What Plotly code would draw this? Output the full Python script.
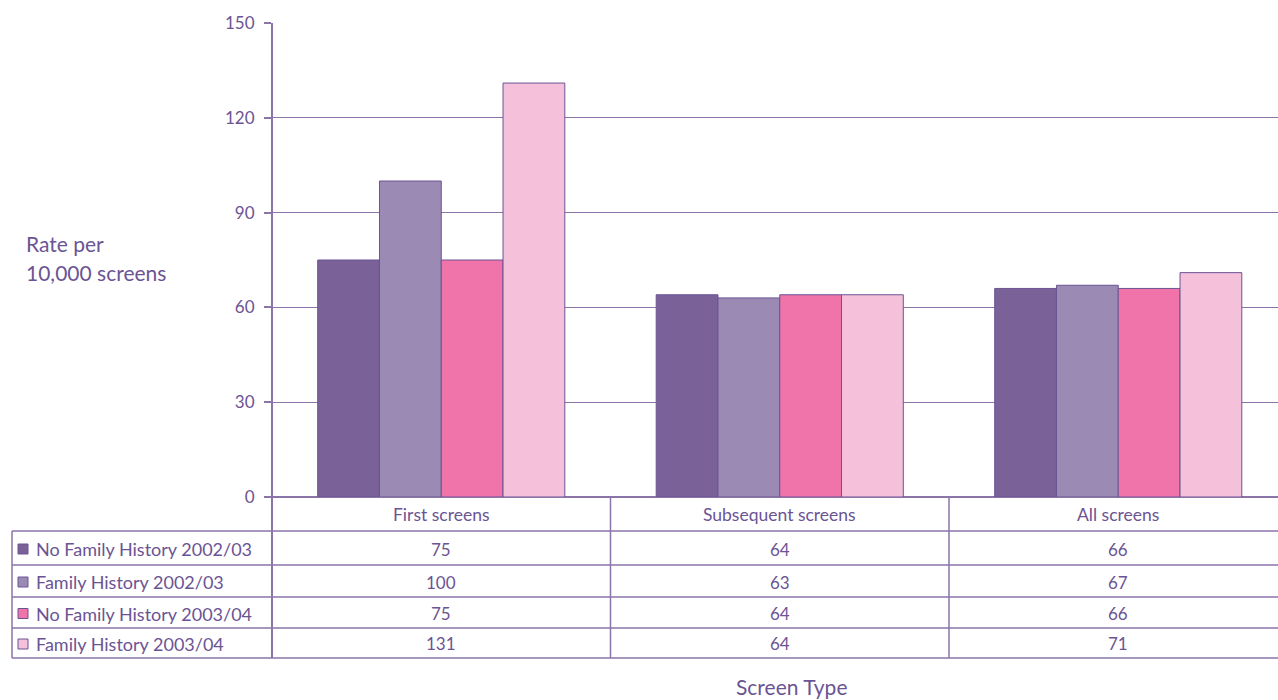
import plotly.graph_objects as go

# Screen types along the x axis
categories = ["First screens", "Subsequent screens", "All screens"]

# Rates per 10,000 screens for each group and year
series_names = [
    "No Family History 2002/03",
    "Family History 2002/03",
    "No Family History 2003/04",
    "Family History 2003/04",
]
no_fh_2002 = [75, 64, 66]
fh_2002 = [100, 63, 67]
no_fh_2003 = [75, 64, 66]
fh_2003 = [131, 64, 71]
series_values = [no_fh_2002, fh_2002, no_fh_2003, fh_2003]

y_ticks = [0, 30, 60, 90, 120, 150]

colors = ["#7a6198", "#9a8ab4", "#f073aa", "#f5c0da"]
ink = "#6b5494"
line_col = "#8a74a8"
font_family = "Lato, 'Open Sans', sans-serif"

W, H = 1278, 700
L, R, T, B = 272, 0, 23, 203
plot_w = W - L - R
plot_h = H - T - B


def px_to_paper_x(px):
    return (px - L) / plot_w


def px_to_paper_y(py):
    return (H - B - py) / plot_h


fig = go.Figure()
for name, vals, col in zip(series_names, series_values, colors):
    fig.add_trace(go.Bar(
        x=list(range(len(categories))),
        y=vals,
        name=name,
        marker=dict(color=col, line=dict(color=ink, width=1)),
        hoverinfo="y",
    ))

shapes = []
annotations = []

# Table geometry (pixel rows below the axis)
header_top, header_bot = 497, 531
row_edges = [531, 565, 597, 628, 658]
table_left = 12

# horizontal rules of the data table
for ry in row_edges:
    shapes.append(dict(type="line", xref="paper", yref="paper",
                       x0=px_to_paper_x(table_left), x1=1,
                       y0=px_to_paper_y(ry), y1=px_to_paper_y(ry),
                       line=dict(color=line_col, width=1.5)))
# left border of table
shapes.append(dict(type="line", xref="paper", yref="paper",
                   x0=px_to_paper_x(table_left), x1=px_to_paper_x(table_left),
                   y0=px_to_paper_y(row_edges[0]), y1=px_to_paper_y(row_edges[-1]),
                   line=dict(color=line_col, width=1.5)))
# axis line extended through the table
shapes.append(dict(type="line", xref="paper", yref="paper",
                   x0=0, x1=0, y0=1, y1=px_to_paper_y(row_edges[-1]),
                   line=dict(color=line_col, width=2)))
# category separators
for i in range(1, len(categories)):
    shapes.append(dict(type="line", xref="x", yref="paper",
                       x0=i - 0.5, x1=i - 0.5,
                       y0=0, y1=px_to_paper_y(row_edges[-1]),
                       line=dict(color=line_col, width=1.5)))

# category header labels
for i, cat in enumerate(categories):
    annotations.append(dict(x=i, xref="x", y=px_to_paper_y((header_top + header_bot) / 2),
                            yref="paper", text=cat, showarrow=False,
                            font=dict(size=17.5, color=ink, family=font_family),
                            xanchor="center", yanchor="middle"))

# table rows: colour key, series name, values
for r, (name, vals, col) in enumerate(zip(series_names, series_values, colors)):
    cy = (row_edges[r] + row_edges[r + 1]) / 2 + 1
    shapes.append(dict(type="rect", xref="paper", yref="paper",
                       x0=px_to_paper_x(18), x1=px_to_paper_x(28),
                       y0=px_to_paper_y(cy - 5), y1=px_to_paper_y(cy + 5),
                       fillcolor=col, line=dict(color=ink, width=1)))
    annotations.append(dict(x=px_to_paper_x(34), xref="paper", y=px_to_paper_y(cy),
                            yref="paper", text=name, showarrow=False,
                            font=dict(size=18, color=ink, family=font_family),
                            xanchor="left", yanchor="middle"))
    for i, v in enumerate(vals):
        annotations.append(dict(x=i, xref="x", y=px_to_paper_y(cy),
                                yref="paper", text=str(v), showarrow=False,
                                font=dict(size=17, color=ink, family=font_family),
                                xanchor="center", yanchor="middle"))

# y axis title (two lines)
annotations.append(dict(x=px_to_paper_x(24), xref="paper", y=px_to_paper_y(243),
                        yref="paper", text="Rate per", showarrow=False,
                        font=dict(size=21, color=ink, family=font_family),
                        xanchor="left", yanchor="middle"))
annotations.append(dict(x=px_to_paper_x(24), xref="paper", y=px_to_paper_y(272),
                        yref="paper", text="10,000 screens", showarrow=False,
                        font=dict(size=21, color=ink, family=font_family),
                        xanchor="left", yanchor="middle"))
# x axis title
annotations.append(dict(x=px_to_paper_x(791), xref="paper", y=px_to_paper_y(686),
                        yref="paper", text="Screen Type", showarrow=False,
                        font=dict(size=21, color=ink, family=font_family),
                        xanchor="center", yanchor="middle"))

cat_px = 338.5
fig.update_layout(
    width=W, height=H,
    margin=dict(l=L, r=R, t=T, b=B, pad=0),
    paper_bgcolor="white", plot_bgcolor="white",
    barmode="group", bargap=0.27, bargroupgap=0,
    showlegend=False,
    font=dict(family=font_family, color=ink),
    xaxis=dict(range=[-0.5, -0.5 + plot_w / cat_px], showticklabels=False,
               showgrid=False, zeroline=False, showline=False, ticks="",
               fixedrange=True),
    yaxis=dict(range=[0, 150], tickvals=y_ticks, showgrid=True,
               gridcolor=line_col, gridwidth=1, zeroline=True,
               zerolinecolor=line_col, zerolinewidth=1.5,
               showline=False, ticks="outside", ticklen=7, tickcolor=line_col,
               tickwidth=1.5, ticklabelstandoff=6,
               tickfont=dict(size=17, color=ink, family=font_family),
               fixedrange=True),
    shapes=shapes,
    annotations=annotations,
)

fig.write_html("out.html")
